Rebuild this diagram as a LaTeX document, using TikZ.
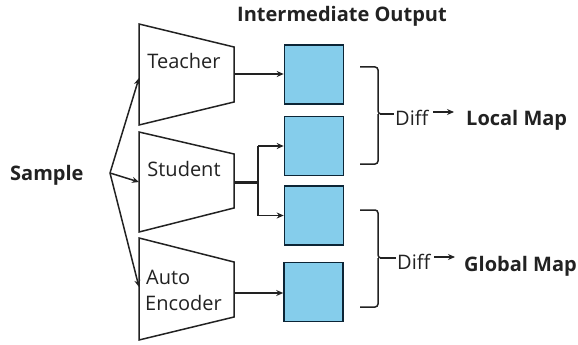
\documentclass[tikz,border=0pt]{standalone}
\usepackage{fontspec}
\setmainfont{Open Sans}
\usetikzlibrary{arrows.meta}
\definecolor{navy}{HTML}{0C2536}
\definecolor{sky}{HTML}{85CDEB}
\definecolor{ink}{HTML}{222222}
\begin{document}
\begin{tikzpicture}[x=1pt,y=-1pt,
  line/.style={line width=1.5pt, draw=ink},
  arr/.style={line, -{Stealth[length=7pt,width=6pt]}},
  enc/.style={line width=1.5pt, draw=ink, fill=white, line join=miter},
  box/.style={draw=navy, fill=sky, line width=1.6pt, minimum width=59pt, minimum height=59pt, inner sep=0pt},
  lbl/.style={font=\fontsize{20}{24}\selectfont, text=ink, inner sep=0pt},
  blbl/.style={font=\fontsize{20}{24}\selectfont\bfseries, text=ink, inner sep=0pt},
  brace/.style={line width=1.5pt, draw=ink, rounded corners=3pt}]
\useasboundingbox (0,0) rectangle (578,345);

% encoders
\draw[enc] (139,24) -- (234,47) -- (234,102) -- (139,125) -- cycle;
\draw[enc] (139,132) -- (234,154) -- (234,208) -- (139,232) -- cycle;
\draw[enc] (139,238) -- (234,262) -- (234,317) -- (139,340) -- cycle;

\coordinate (tin) at (139,78);
\coordinate (sin) at (139,182);
\coordinate (ain) at (139,287);
\coordinate (tout) at (234,74);
\coordinate (sout) at (234,182);
\coordinate (aout) at (234,293);
\coordinate (fan) at (110,173);
\coordinate (split) at (258,182);

\node[lbl, anchor=base] (teacher) at (184,68) {Teacher};
\node[lbl, anchor=base] (student) at (184,176) {Student};
\node[lbl, anchor=base west] (auto) at (146,284) {Auto};
\node[lbl, anchor=base west] (encoder) at (145,310) {Encoder};

\node[blbl, anchor=base west] (sample) at (10,180) {Sample};
\node[blbl, anchor=base west] (title) at (237,22) {Intermediate Output};

% boxes
\node[box] (b1) at (314,74.5) {};
\node[box] (b2) at (314,146) {};
\node[box] (b3) at (314,215.5) {};
\node[box] (b4) at (313.5,292) {};

% sample fan
\draw[arr] (fan) -- (tin);
\draw[arr] (fan) -- (sin);
\draw[arr] (fan) -- (ain);

% encoder outputs
\draw[arr] (tout) -- (tout -| b1.west);
\draw[arr] (aout) -- (aout -| b4.west);
\draw[line width=3pt, draw=ink] (sout) -- (split);
\draw[line] (split |- b2.west) -- (split |- b3.west);
\draw[arr] (split |- b2.west) -- (b2.west);
\draw[arr] (split |- b3.west) -- (b3.west);

% braces
\draw[brace] (360,67) -- (378,67) -- (378,114) -- (386,114);
\draw[brace] (360,164) -- (378,164) -- (378,114);
\draw[line] (380,114) -- (394,114);
\draw[brace] (360,210) -- (378,210) -- (378,258) -- (386,258);
\draw[brace] (360,307) -- (378,307) -- (378,258);
\draw[line] (380,258) -- (396,258);

\node[lbl, anchor=base west] (diff1) at (395,125) {Diff};
\node[lbl, anchor=base west] (diff2) at (397,269) {Diff};
\node[blbl, anchor=base west] (local) at (466,125) {Local Map};
\node[blbl, anchor=base west] (global) at (464,271) {Global Map};

\coordinate (d1s) at (433,112);
\coordinate (d1e) at (454,112);
\coordinate (d2s) at (434,257);
\coordinate (d2e) at (455,257);
\draw[arr, line width=1.6pt] (d1s) -- (d1e);
\draw[arr, line width=1.6pt] (d2s) -- (d2e);
\end{tikzpicture}
\end{document}
